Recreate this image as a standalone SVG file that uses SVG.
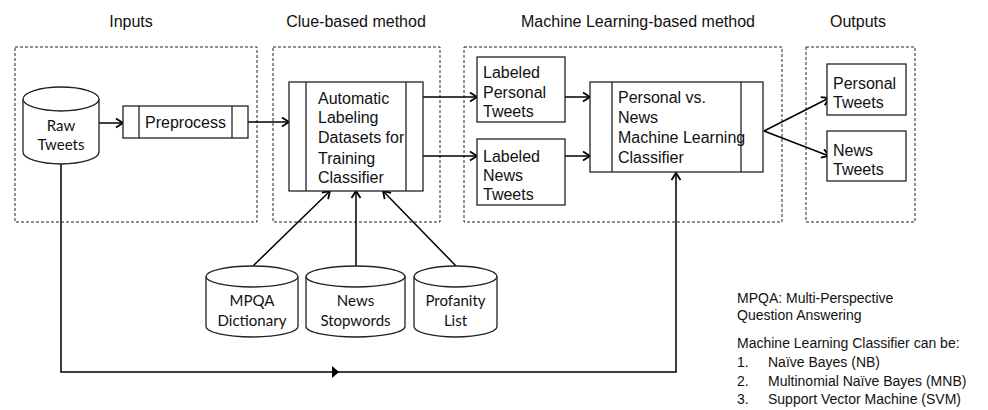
<svg xmlns="http://www.w3.org/2000/svg" width="988" height="410" viewBox="0 0 988 410">
<style>
.bg{fill:#fff}
.grp{fill:none;stroke:#222;stroke-width:1;stroke-dasharray:3,2}
.box{fill:#fff;stroke:#222;stroke-width:1.3}
.ln{fill:none;stroke:#222;stroke-width:1.3}
.cyl{fill:#fff;stroke:#222;stroke-width:1.3}
.con{fill:none;stroke:#000;stroke-width:1.5}
.hd{font-family:"Liberation Sans",Arial,sans-serif;font-size:16px;fill:#111;text-anchor:middle}
.t{font-family:"Liberation Sans",Arial,sans-serif;font-size:16px;fill:#111}
.c{font-family:Lato,"Open Sans",sans-serif;font-size:15px;fill:#111;text-anchor:middle}
.n{font-family:"Liberation Sans",Arial,sans-serif;font-size:14px;fill:#111}
</style>
<defs>
<marker id="ah" markerUnits="userSpaceOnUse" markerWidth="12" markerHeight="12" refX="9" refY="6" orient="auto">
<path d="M2,1.5 L9,6 L2,10.5" fill="none" stroke="#000" stroke-width="1.8"/>
</marker>
</defs>
<rect class="bg" width="988" height="410"/>

<g id="headers">
<text class="hd" x="131" y="27">Inputs</text>
<text class="hd" x="356" y="27">Clue-based method</text>
<text class="hd" x="638" y="27">Machine Learning-based method</text>
<text class="hd" x="858" y="27">Outputs</text>
</g>

<g id="groups">
<rect class="grp" x="15" y="47" width="242" height="175"/>
<rect class="grp" x="273" y="47" width="167" height="175"/>
<rect class="grp" x="464" y="47" width="318" height="175"/>
<rect class="grp" x="806" y="47" width="109" height="175"/>
</g>

<g id="connectors">
<line class="con" x1="99" y1="123" x2="123" y2="123" marker-end="url(#ah)"/>
<line class="con" x1="248" y1="122" x2="289" y2="122" marker-end="url(#ah)"/>
<line class="con" x1="423" y1="97" x2="477" y2="97" marker-end="url(#ah)"/>
<line class="con" x1="423" y1="156" x2="477" y2="156" marker-end="url(#ah)"/>
<line class="con" x1="565" y1="97" x2="590" y2="97" marker-end="url(#ah)"/>
<line class="con" x1="565" y1="156" x2="590" y2="156" marker-end="url(#ah)"/>
<line class="con" x1="764" y1="131" x2="829" y2="98" marker-end="url(#ah)"/>
<line class="con" x1="764" y1="131" x2="829" y2="156" marker-end="url(#ah)"/>
<line class="con" x1="253" y1="266" x2="330" y2="191" marker-end="url(#ah)"/>
<line class="con" x1="356" y1="266" x2="356" y2="191" marker-end="url(#ah)"/>
<line class="con" x1="456" y1="266" x2="383" y2="191" marker-end="url(#ah)"/>
<polyline class="con" points="61,164 61,372 676,372 676,173" marker-end="url(#ah)"/>
<path d="M332,366 L339,372 L332,378 Z" fill="#000"/>
</g>

<g id="raw-tweets">
<path class="cyl" d="M23,99 L23,152 A38,12 0 0 0 99,152 L99,99"/>
<ellipse class="cyl" cx="61" cy="99" rx="38" ry="12"/>
<text class="c" x="61" y="131">Raw</text>
<text class="c" x="61" y="150">Tweets</text>
</g>

<g id="preprocess">
<rect class="box" x="123" y="106" width="125" height="32"/>
<line class="ln" x1="139" y1="106" x2="139" y2="138"/>
<line class="ln" x1="232" y1="106" x2="232" y2="138"/>
<text class="t" x="145" y="128">Preprocess</text>
</g>

<g id="auto-label">
<rect class="box" x="289" y="82" width="134" height="109"/>
<line class="ln" x1="306" y1="82" x2="306" y2="191"/>
<line class="ln" x1="406" y1="82" x2="406" y2="191"/>
<text class="t" x="318" y="104">Automatic</text>
<text class="t" x="318" y="123">Labeling</text>
<text class="t" x="318" y="143">Datasets for</text>
<text class="t" x="318" y="164">Training</text>
<text class="t" x="318" y="183">Classifier</text>
</g>

<g id="labeled-personal">
<rect class="box" x="477" y="57" width="88" height="65"/>
<text class="t" x="483" y="78">Labeled</text>
<text class="t" x="483" y="98">Personal</text>
<text class="t" x="483" y="117">Tweets</text>
</g>

<g id="labeled-news">
<rect class="box" x="477" y="139" width="88" height="66"/>
<text class="t" x="483" y="162">Labeled</text>
<text class="t" x="483" y="181">News</text>
<text class="t" x="483" y="200">Tweets</text>
</g>

<g id="classifier">
<rect class="box" x="590" y="82" width="173" height="90"/>
<line class="ln" x1="612" y1="82" x2="612" y2="172"/>
<line class="ln" x1="741" y1="82" x2="741" y2="172"/>
<text class="t" x="618" y="103">Personal vs.</text>
<text class="t" x="618" y="123">News</text>
<text class="t" x="618" y="143">Machine Learning</text>
<text class="t" x="618" y="163">Classifier</text>
</g>

<g id="out-personal">
<rect class="box" x="827" y="64" width="79" height="51"/>
<text class="t" x="833" y="89">Personal</text>
<text class="t" x="833" y="108">Tweets</text>
</g>

<g id="out-news">
<rect class="box" x="827" y="131" width="79" height="50"/>
<text class="t" x="833" y="156">News</text>
<text class="t" x="833" y="175">Tweets</text>
</g>

<g id="mpqa">
<path class="cyl" d="M206,276.5 L206,326.5 A46,10.5 0 0 0 298,326.5 L298,276.5"/>
<ellipse class="cyl" cx="252" cy="276.5" rx="46" ry="10.5"/>
<text class="c" x="252" y="306">MPQA</text>
<text class="c" x="252" y="326">Dictionary</text>
</g>

<g id="news-stopwords">
<path class="cyl" d="M306,276.5 L306,326.5 A49.5,10.5 0 0 0 405,326.5 L405,276.5"/>
<ellipse class="cyl" cx="355.5" cy="276.5" rx="49.5" ry="10.5"/>
<text class="c" x="355.5" y="306">News</text>
<text class="c" x="355.5" y="326">Stopwords</text>
</g>

<g id="profanity">
<path class="cyl" d="M414,276.5 L414,326.5 A41.5,10.5 0 0 0 497,326.5 L497,276.5"/>
<ellipse class="cyl" cx="455.5" cy="276.5" rx="41.5" ry="10.5"/>
<text class="c" x="455.5" y="306">Profanity</text>
<text class="c" x="455.5" y="326">List</text>
</g>

<g id="notes">
<text class="n" x="737" y="303">MPQA: Multi-Perspective</text>
<text class="n" x="737" y="320">Question Answering</text>
<text class="n" x="737" y="348">Machine Learning Classifier can be:</text>
<text class="n" x="737" y="367">1.</text><text class="n" x="768" y="367">Naïve Bayes (NB)</text>
<text class="n" x="737" y="386">2.</text><text class="n" x="768" y="386">Multinomial Naïve Bayes (MNB)</text>
<text class="n" x="737" y="404">3.</text><text class="n" x="768" y="404">Support Vector Machine (SVM)</text>
</g>
</svg>
